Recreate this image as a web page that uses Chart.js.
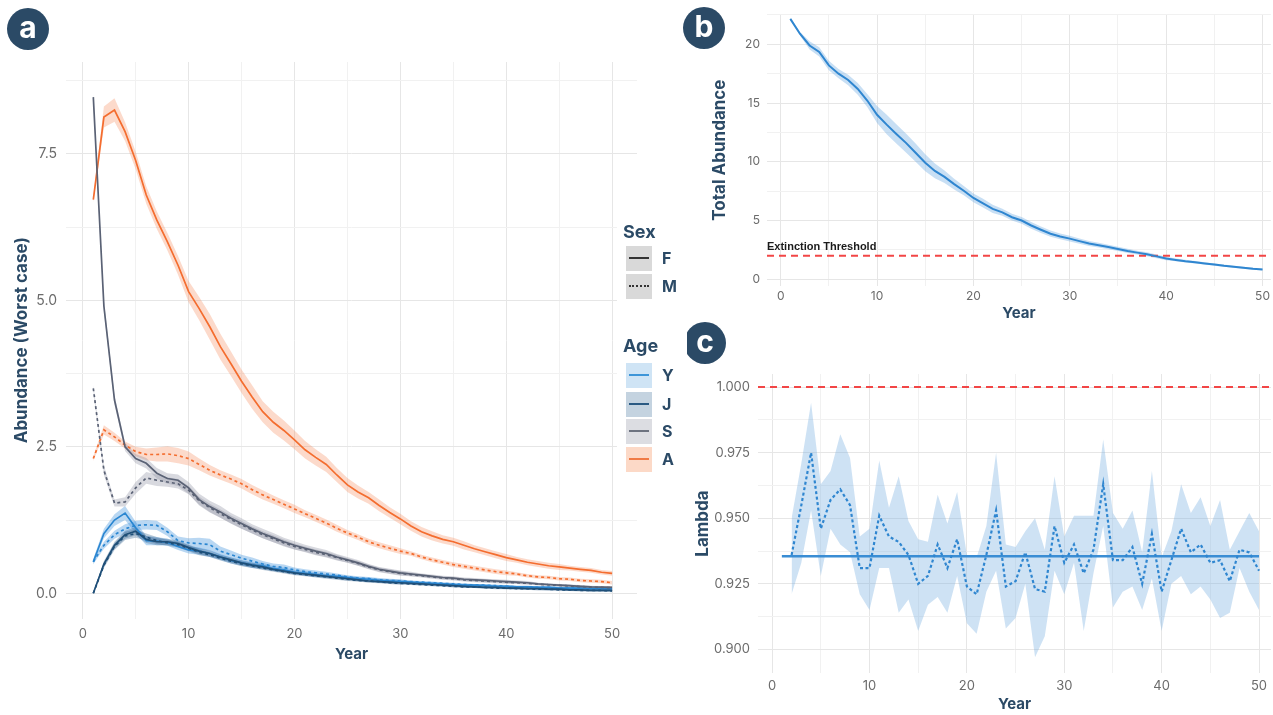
<!DOCTYPE html>
<html>
<head>
<meta charset="utf-8">
<script src="https://cdn.jsdelivr.net/npm/chart.js@4.4.1/dist/chart.umd.min.js"></script>
<style>
  body { margin: 0; background: #fff; width: 1273px; height: 715px; overflow: hidden; position: relative; font-family: Inter, "Open Sans", sans-serif; }
  canvas { position: absolute; }
  .tag { position: absolute; width: 42px; height: 42px; border-radius: 50%; background: #2b4a66; color: #fff;
         font: 700 30px Inter, sans-serif; text-align: center; line-height: 38px; }
  #legend { position: absolute; left: 617px; top: 212px; width: 70px; height: 266px; background: #fff; }
  #legend .ttl { position: absolute; left: 6px; font: 700 18px Inter, sans-serif; color: #2b4a66; }
  #legend .key { position: absolute; left: 9px; width: 26px; height: 25px; }
  #legend .key span { position: absolute; left: 3px; right: 3px; top: 11px; height: 0; border-top: 2px solid; }
  #legend .lab { position: absolute; left: 45px; font: 700 16px Inter, sans-serif; color: #2b4a66; line-height: 25px; }
</style>
</head>
<body>
<canvas id="chartA" width="640" height="663" style="left:0;top:0"></canvas>
<canvas id="chartB" width="593" height="322" style="left:680px;top:0"></canvas>
<canvas id="chartC" width="593" height="385" style="left:680px;top:330px"></canvas>

<div class="tag" style="left:7px;top:8px">a</div>
<div class="tag" style="left:683px;top:7px">b</div>
<div class="tag" style="left:684px;top:322px">c</div>

<div id="legend">
  <div class="ttl" style="top:9px">Sex</div>
  <div class="key" style="top:34px;background:#d9d9d9"><span style="border-color:#333"></span></div>
  <div class="lab" style="top:34px">F</div>
  <div class="key" style="top:62px;background:#d9d9d9"><span style="border-top-style:dotted;border-color:#333"></span></div>
  <div class="lab" style="top:62px">M</div>
  <div class="ttl" style="top:123px">Age</div>
  <div class="key" style="top:151px;background:#cfe4f5"><span style="border-color:#3d95d8"></span></div>
  <div class="lab" style="top:151px">Y</div>
  <div class="key" style="top:180px;background:#c4d3e0"><span style="border-color:#2a5a83"></span></div>
  <div class="lab" style="top:180px">J</div>
  <div class="key" style="top:207px;background:#dcdde2"><span style="border-color:#6d7380"></span></div>
  <div class="lab" style="top:207px">S</div>
  <div class="key" style="top:235px;background:#fcd9c7"><span style="border-color:#f07a45"></span></div>
  <div class="lab" style="top:235px">A</div>
</div>

<script>
Chart.defaults.font.family = 'Inter, "Open Sans", sans-serif';
Chart.defaults.color = '#6b6b6b';

let years = [1, 2, 3, 4, 5, 6, 7, 8, 9, 10, 11, 12, 13, 14, 15, 16, 17, 18, 19, 20,
    21, 22, 23, 24, 25, 26, 27, 28, 29, 30, 31, 32, 33, 34, 35, 36, 37, 38, 39, 40,
    41, 42, 43, 44, 45, 46, 47, 48, 49, 50];

// ---- panel a: abundance by age class and sex (mean + ribbon half width)
let adultF = [6.72, 8.13, 8.25, 7.88, 7.39, 6.80, 6.37, 6.00, 5.60, 5.15, 4.86, 4.55, 4.21, 3.92, 3.62, 3.35, 3.10, 2.92, 2.78, 2.62,
    2.45, 2.32, 2.20, 2.02, 1.85, 1.73, 1.63, 1.50, 1.38, 1.27, 1.15, 1.05, 0.98, 0.92, 0.88, 0.82, 0.76, 0.71, 0.66, 0.61,
    0.57, 0.53, 0.50, 0.47, 0.45, 0.43, 0.41, 0.39, 0.36, 0.34];
let adultFse = [0.05, 0.18, 0.2, 0.16, 0.15, 0.15, 0.15, 0.15, 0.16, 0.18, 0.2, 0.22, 0.22, 0.21, 0.2, 0.2, 0.18, 0.18, 0.17, 0.16,
    0.15, 0.14, 0.13, 0.12, 0.12, 0.11, 0.1, 0.1, 0.09, 0.09, 0.08, 0.08, 0.08, 0.07, 0.07, 0.07, 0.06, 0.06, 0.06, 0.06,
    0.05, 0.05, 0.05, 0.05, 0.05, 0.04, 0.04, 0.04, 0.04, 0.04];
let adultM = [2.30, 2.79, 2.67, 2.53, 2.42, 2.37, 2.37, 2.38, 2.35, 2.30, 2.20, 2.10, 2.02, 1.95, 1.87, 1.77, 1.68, 1.60, 1.52, 1.44,
    1.36, 1.28, 1.20, 1.11, 1.03, 0.96, 0.88, 0.82, 0.77, 0.72, 0.68, 0.62, 0.57, 0.53, 0.49, 0.46, 0.43, 0.40, 0.37, 0.35,
    0.33, 0.30, 0.28, 0.27, 0.25, 0.24, 0.22, 0.21, 0.20, 0.18];
let adultMse = [0.04, 0.08, 0.07, 0.06, 0.08, 0.1, 0.12, 0.13, 0.13, 0.12, 0.1, 0.09, 0.08, 0.08, 0.08, 0.08, 0.08, 0.07, 0.07, 0.07,
    0.06, 0.06, 0.06, 0.06, 0.05, 0.05, 0.05, 0.05, 0.05, 0.05, 0.04, 0.04, 0.04, 0.04, 0.04, 0.04, 0.04, 0.04, 0.04, 0.04,
    0.03, 0.03, 0.03, 0.03, 0.03, 0.03, 0.03, 0.03, 0.03, 0.03];
let seniorF = [8.47, 4.90, 3.30, 2.50, 2.30, 2.22, 2.05, 1.96, 1.93, 1.80, 1.60, 1.48, 1.39, 1.28, 1.19, 1.10, 1.02, 0.95, 0.88, 0.82,
    0.77, 0.72, 0.68, 0.62, 0.57, 0.52, 0.46, 0.41, 0.38, 0.35, 0.33, 0.31, 0.29, 0.27, 0.26, 0.24, 0.23, 0.22, 0.21, 0.20,
    0.19, 0.18, 0.16, 0.15, 0.14, 0.13, 0.12, 0.11, 0.105, 0.10];
let seniorFse = [0.06, 0.1, 0.08, 0.07, 0.08, 0.09, 0.09, 0.09, 0.1, 0.1, 0.1, 0.1, 0.1, 0.09, 0.09, 0.08, 0.08, 0.08, 0.07, 0.07,
    0.06, 0.06, 0.06, 0.05, 0.05, 0.05, 0.04, 0.04, 0.04, 0.04, 0.04, 0.03, 0.03, 0.03, 0.03, 0.03, 0.03, 0.03, 0.03, 0.03,
    0.03, 0.03, 0.02, 0.02, 0.02, 0.02, 0.02, 0.02, 0.02, 0.02];
let seniorM = [3.50, 2.10, 1.54, 1.56, 1.80, 1.97, 1.93, 1.90, 1.87, 1.76, 1.58, 1.46, 1.36, 1.26, 1.17, 1.08, 1.00, 0.93, 0.86, 0.80,
    0.75, 0.70, 0.66, 0.61, 0.56, 0.51, 0.45, 0.40, 0.37, 0.34, 0.32, 0.30, 0.28, 0.26, 0.25, 0.23, 0.22, 0.21, 0.20, 0.19,
    0.18, 0.17, 0.155, 0.145, 0.135, 0.125, 0.115, 0.105, 0.10, 0.095];
let seniorMse = [0.05, 0.08, 0.06, 0.08, 0.1, 0.1, 0.1, 0.08, 0.08, 0.07, 0.07, 0.07, 0.07, 0.07, 0.07, 0.06, 0.06, 0.06, 0.06, 0.05,
    0.05, 0.05, 0.05, 0.05, 0.04, 0.04, 0.04, 0.04, 0.04, 0.04, 0.03, 0.03, 0.03, 0.03, 0.03, 0.03, 0.03, 0.03, 0.03, 0.03,
    0.02, 0.02, 0.02, 0.02, 0.02, 0.02, 0.02, 0.02, 0.02, 0.02];
let youngF = [0.54, 1.02, 1.25, 1.37, 1.12, 0.90, 0.89, 0.87, 0.80, 0.74, 0.72, 0.68, 0.62, 0.56, 0.52, 0.48, 0.47, 0.42, 0.40, 0.36,
    0.34, 0.32, 0.30, 0.29, 0.27, 0.25, 0.24, 0.22, 0.21, 0.20, 0.19, 0.18, 0.17, 0.16, 0.15, 0.14, 0.14, 0.13, 0.12, 0.12,
    0.11, 0.11, 0.10, 0.10, 0.09, 0.09, 0.09, 0.08, 0.08, 0.08];
let youngFse = [0.05, 0.08, 0.1, 0.12, 0.1, 0.08, 0.07, 0.06, 0.06, 0.06, 0.06, 0.06, 0.05, 0.05, 0.05, 0.05, 0.05, 0.04, 0.04, 0.04,
    0.04, 0.04, 0.03, 0.03, 0.03, 0.03, 0.03, 0.03, 0.03, 0.03, 0.02, 0.02, 0.02, 0.02, 0.02, 0.02, 0.02, 0.02, 0.02, 0.02,
    0.02, 0.02, 0.02, 0.02, 0.02, 0.02, 0.02, 0.02, 0.02, 0.02];
let youngM = [0.54, 0.82, 1.00, 1.10, 1.16, 1.17, 1.16, 1.05, 0.90, 0.86, 0.85, 0.83, 0.72, 0.66, 0.60, 0.55, 0.50, 0.46, 0.44, 0.40,
    0.37, 0.35, 0.33, 0.31, 0.28, 0.26, 0.25, 0.23, 0.22, 0.21, 0.20, 0.19, 0.18, 0.17, 0.16, 0.15, 0.14, 0.14, 0.13, 0.12,
    0.11, 0.11, 0.10, 0.10, 0.09, 0.09, 0.09, 0.08, 0.08, 0.07];
let youngMse = [0.04, 0.06, 0.07, 0.08, 0.08, 0.08, 0.08, 0.07, 0.07, 0.08, 0.1, 0.1, 0.08, 0.07, 0.06, 0.06, 0.05, 0.05, 0.05, 0.04,
    0.04, 0.04, 0.04, 0.03, 0.03, 0.03, 0.03, 0.03, 0.03, 0.03, 0.02, 0.02, 0.02, 0.02, 0.02, 0.02, 0.02, 0.02, 0.02, 0.02,
    0.02, 0.02, 0.02, 0.02, 0.02, 0.02, 0.02, 0.02, 0.02, 0.02];
let juvF = [0.00, 0.50, 0.82, 1.00, 1.06, 0.92, 0.88, 0.88, 0.85, 0.78, 0.72, 0.68, 0.62, 0.57, 0.52, 0.48, 0.45, 0.41, 0.38, 0.35,
    0.33, 0.31, 0.29, 0.27, 0.25, 0.23, 0.21, 0.20, 0.19, 0.18, 0.17, 0.16, 0.15, 0.14, 0.13, 0.12, 0.11, 0.10, 0.10, 0.09,
    0.09, 0.08, 0.08, 0.07, 0.07, 0.06, 0.06, 0.05, 0.05, 0.05];
let juvFse = [0.02, 0.05, 0.06, 0.07, 0.07, 0.06, 0.06, 0.05, 0.05, 0.05, 0.05, 0.05, 0.04, 0.04, 0.04, 0.04, 0.04, 0.03, 0.03, 0.03,
    0.03, 0.03, 0.03, 0.03, 0.03, 0.03, 0.03, 0.03, 0.03, 0.03, 0.02, 0.02, 0.02, 0.02, 0.02, 0.02, 0.02, 0.02, 0.02, 0.02,
    0.02, 0.02, 0.02, 0.02, 0.02, 0.02, 0.02, 0.02, 0.02, 0.02];
let juvM = [0.00, 0.48, 0.80, 0.98, 1.02, 0.96, 0.90, 0.86, 0.83, 0.77, 0.70, 0.66, 0.60, 0.55, 0.50, 0.47, 0.43, 0.40, 0.37, 0.34,
    0.32, 0.30, 0.28, 0.26, 0.24, 0.22, 0.21, 0.20, 0.18, 0.17, 0.16, 0.15, 0.14, 0.13, 0.12, 0.11, 0.11, 0.10, 0.09, 0.09,
    0.08, 0.08, 0.07, 0.07, 0.06, 0.06, 0.05, 0.05, 0.05, 0.04];
let juvMse = [0.02, 0.05, 0.06, 0.07, 0.07, 0.06, 0.06, 0.05, 0.05, 0.05, 0.05, 0.04, 0.04, 0.04, 0.04, 0.04, 0.03, 0.03, 0.03, 0.03,
    0.03, 0.03, 0.03, 0.03, 0.03, 0.02, 0.02, 0.02, 0.02, 0.02, 0.02, 0.02, 0.02, 0.02, 0.02, 0.02, 0.02, 0.02, 0.02, 0.02,
    0.02, 0.02, 0.02, 0.02, 0.02, 0.02, 0.02, 0.02, 0.02, 0.02];

// ---- panel b: total abundance
let totalMean = [22.16, 20.90, 19.90, 19.35, 18.20, 17.50, 16.96, 16.20, 15.19, 14.00, 13.16, 12.37, 11.61, 10.77, 9.92, 9.22, 8.72, 8.10, 7.54, 6.92,
    6.46, 5.99, 5.70, 5.28, 5.00, 4.58, 4.22, 3.88, 3.65, 3.46, 3.25, 3.04, 2.90, 2.75, 2.58, 2.41, 2.27, 2.13, 1.95, 1.77,
    1.65, 1.54, 1.45, 1.35, 1.25, 1.15, 1.07, 0.98, 0.90, 0.84];
let totalUpper = [22.26, 21.05, 20.25, 19.75, 18.60, 17.90, 17.40, 16.70, 15.75, 14.75, 14.00, 13.20, 12.40, 11.55, 10.65, 9.85, 9.25, 8.55, 7.95, 7.30,
    6.85, 6.35, 6.00, 5.58, 5.30, 4.88, 4.50, 4.15, 3.90, 3.70, 3.47, 3.25, 3.10, 2.95, 2.77, 2.60, 2.44, 2.30, 2.10, 1.92,
    1.78, 1.66, 1.56, 1.46, 1.35, 1.25, 1.16, 1.07, 0.99, 0.92];
let totalLower = [22.06, 20.75, 19.55, 18.95, 17.80, 17.10, 16.52, 15.70, 14.65, 13.30, 12.35, 11.55, 10.80, 10.00, 9.20, 8.60, 8.20, 7.65, 7.15, 6.55,
    6.10, 5.65, 5.40, 5.00, 4.72, 4.30, 3.95, 3.62, 3.40, 3.22, 3.03, 2.83, 2.70, 2.56, 2.40, 2.23, 2.10, 1.97, 1.80, 1.63,
    1.53, 1.43, 1.35, 1.25, 1.16, 1.06, 0.98, 0.90, 0.82, 0.76];
let extinctionThreshold = 2;

// ---- panel c: annual growth rate
let lambdaYears = [2, 3, 4, 5, 6, 7, 8, 9, 10, 11, 12, 13, 14, 15, 16, 17, 18, 19, 20, 21, 22, 23, 24, 25, 26,
    27, 28, 29, 30, 31, 32, 33, 34, 35, 36, 37, 38, 39, 40, 41, 42, 43, 44, 45, 46, 47, 48, 49, 50];
let lambdaMean = [0.936, 0.955, 0.975, 0.946, 0.957, 0.961, 0.955, 0.931, 0.931, 0.951, 0.943, 0.941, 0.936, 0.925, 0.928, 0.940, 0.931, 0.942, 0.924, 0.921,
    0.936, 0.953, 0.924, 0.926, 0.937, 0.923, 0.922, 0.947, 0.933, 0.940, 0.929, 0.938, 0.963, 0.934, 0.934, 0.939, 0.925, 0.944, 0.922, 0.934,
    0.946, 0.937, 0.940, 0.933, 0.934, 0.926, 0.938, 0.937, 0.930];
let lambdaUpper = [0.950, 0.971, 0.994, 0.963, 0.968, 0.982, 0.973, 0.943, 0.946, 0.972, 0.954, 0.966, 0.949, 0.942, 0.941, 0.959, 0.948, 0.960, 0.936, 0.935,
    0.947, 0.975, 0.940, 0.939, 0.945, 0.950, 0.938, 0.966, 0.943, 0.951, 0.951, 0.951, 0.980, 0.952, 0.946, 0.953, 0.937, 0.968, 0.935, 0.945,
    0.963, 0.952, 0.958, 0.947, 0.957, 0.938, 0.945, 0.952, 0.945];
let lambdaLower = [0.921, 0.933, 0.953, 0.928, 0.946, 0.940, 0.937, 0.921, 0.915, 0.931, 0.931, 0.914, 0.919, 0.907, 0.917, 0.920, 0.914, 0.928, 0.910, 0.906,
    0.922, 0.930, 0.908, 0.912, 0.925, 0.897, 0.905, 0.930, 0.921, 0.933, 0.907, 0.929, 0.947, 0.916, 0.922, 0.924, 0.915, 0.927, 0.907, 0.925,
    0.928, 0.921, 0.924, 0.919, 0.912, 0.914, 0.931, 0.922, 0.915];
let lambdaOverall = 0.9355;
let lambdaStable = 1.0;

// ---------------------------------------------------------------
function pts(xs, ys) {
    return xs.map((x, i) => ({ x: x, y: ys[i] }));
}
function isMajor(v, step) {
    const r = v / step;
    return Math.abs(r - Math.round(r)) < 1e-6;
}
function gridFor(step) {
    return {
        color: ctx => isMajor(ctx.tick.value, step) ? '#e6e6e6' : '#f1f1f1',
        lineWidth: 1,
        drawTicks: false
    };
}
const tickFont = { size: 13 };
const titleFont = { size: 17, weight: 'bold' };
const navy = '#2b4a66';

// panel a datasets
let seriesA = [
    { mean: seniorF, se: seniorFse, line: '#5a6275', band: 'rgba(140,145,162,0.34)', dash: [] },
    { mean: seniorM, se: seniorMse, line: '#5a6275', band: 'rgba(140,145,162,0.34)', dash: [3, 3] },
    { mean: adultF, se: adultFse, line: '#f46d2f', band: 'rgba(246,140,92,0.32)', dash: [] },
    { mean: adultM, se: adultMse, line: '#f46d2f', band: 'rgba(246,140,92,0.32)', dash: [3, 3] },
    { mean: juvF, se: juvFse, line: '#1f4f78', band: 'rgba(50,95,140,0.32)', dash: [] },
    { mean: juvM, se: juvMse, line: '#1f4f78', band: 'rgba(50,95,140,0.32)', dash: [3, 3] },
    { mean: youngF, se: youngFse, line: '#2a86d1', band: 'rgba(70,150,220,0.38)', dash: [] },
    { mean: youngM, se: youngMse, line: '#2a86d1', band: 'rgba(70,150,220,0.38)', dash: [3, 3] }
];
let dsA = [];
seriesA.forEach(s => {
    dsA.push({
        data: pts(years, s.mean), borderColor: s.line, borderWidth: 1.7, borderDash: s.dash,
        pointRadius: 0, fill: false, order: 0
    });
});
seriesA.forEach(s => {
    dsA.push({
        data: pts(years, s.mean.map((m, i) => m + s.se[i])), borderWidth: 0, pointRadius: 0,
        backgroundColor: s.band, fill: '+1', order: 5
    });
    dsA.push({
        data: pts(years, s.mean.map((m, i) => Math.max(0, m - s.se[i]))), borderWidth: 0, pointRadius: 0,
        fill: false, order: 5
    });
});

new Chart(document.getElementById('chartA'), {
    type: 'line',
    data: { datasets: dsA },
    options: {
        responsive: false, animation: false,
        layout: { padding: { top: 62, right: 3, left: 0, bottom: 0 } },
        plugins: { legend: { display: false }, tooltip: { enabled: false } },
        scales: {
            x: {
                type: 'linear', min: -1.58, max: 52.35,
                grid: gridFor(10), border: { display: false },
                ticks: { stepSize: 5, includeBounds: false, autoSkip: false, maxRotation: 0, padding: 8, font: tickFont,
                    callback: v => isMajor(v, 10) ? v : '' },
                title: { display: true, text: 'Year', color: navy, font: { size: 15, weight: 'bold' }, padding: 0 },
                afterFit: s => { s.height = 44.5; }
            },
            y: {
                min: -0.43, max: 9.07,
                grid: gridFor(2.5), border: { display: false },
                ticks: { stepSize: 1.25, includeBounds: false, autoSkip: false, padding: 9, font: { size: 14 },
                    callback: v => isMajor(v, 2.5) ? v.toFixed(1) : '' },
                title: { display: true, text: 'Abundance (Worst case)', color: navy, font: titleFont, padding: { top: 12, bottom: 0 } },
                afterFit: s => { s.width = 66; }
            }
        }
    }
});

// panel b
const thresholdLabel = {
    id: 'thresholdLabel',
    afterDatasetsDraw(chart) {
        const ctx = chart.ctx;
        const y = chart.scales.y.getPixelForValue(extinctionThreshold);
        ctx.save();
        ctx.font = 'bold 11px "Liberation Sans", Arial, sans-serif';
        ctx.fillStyle = '#1a1a1a';
        ctx.textBaseline = 'middle';
        ctx.fillText('Extinction Threshold', chart.chartArea.left, y - 9);
        ctx.restore();
    }
};
new Chart(document.getElementById('chartB'), {
    type: 'line',
    data: {
        datasets: [
            { data: pts(years, totalMean), borderColor: '#2f86d0', borderWidth: 2, pointRadius: 0, fill: false, order: 0 },
            { data: [{ x: -1.42, y: extinctionThreshold }, { x: 50.86, y: extinctionThreshold }], borderColor: '#f24646',
              borderWidth: 2, borderDash: [7, 5], pointRadius: 0, fill: false, order: 1 },
            { data: pts(years, totalUpper), borderWidth: 0, pointRadius: 0, backgroundColor: 'rgba(110,170,225,0.38)', fill: '+1', order: 5 },
            { data: pts(years, totalLower), borderWidth: 0, pointRadius: 0, fill: false, order: 5 }
        ]
    },
    options: {
        responsive: false, animation: false,
        layout: { padding: { top: 12, right: 1, left: 0, bottom: 0 } },
        plugins: { legend: { display: false }, tooltip: { enabled: false } },
        scales: {
            x: {
                type: 'linear', min: -1.42, max: 50.86,
                grid: gridFor(10), border: { display: false },
                ticks: { stepSize: 5, includeBounds: false, autoSkip: false, maxRotation: 0, padding: 3, font: { size: 12 },
                    callback: v => isMajor(v, 10) ? v : '' },
                title: { display: true, text: 'Year', color: navy, font: { size: 15, weight: 'bold' }, padding: 0 },
                afterFit: s => { s.height = 36; }
            },
            y: {
                min: -0.57, max: 22.56,
                grid: gridFor(5), border: { display: false },
                ticks: { stepSize: 2.5, includeBounds: false, autoSkip: false, padding: 7, font: { size: 12 },
                    callback: v => isMajor(v, 5) ? v : '' },
                title: { display: true, text: 'Total Abundance', color: navy, font: titleFont, padding: { top: 30, bottom: 0 } },
                afterFit: s => { s.width = 87; }
            }
        }
    },
    plugins: [thresholdLabel]
});

// panel c
new Chart(document.getElementById('chartC'), {
    type: 'line',
    data: {
        datasets: [
            { data: pts(lambdaYears, lambdaMean), borderColor: '#2f86d0', borderWidth: 2.2, borderDash: [3, 2.5],
              pointRadius: 0, fill: false, order: 0 },
            { data: [{ x: years[0], y: lambdaOverall }, { x: years[years.length - 1], y: lambdaOverall }],
              borderColor: '#3a8dd4', borderWidth: 2.4, pointRadius: 0, fill: false, order: 1 },
            { data: [{ x: -1.45, y: lambdaStable }, { x: 51.23, y: lambdaStable }], borderColor: '#f24646',
              borderWidth: 2, borderDash: [7, 5], pointRadius: 0, fill: false, order: 1 },
            { data: pts(lambdaYears, lambdaUpper), borderWidth: 0, pointRadius: 0, backgroundColor: 'rgba(120,175,225,0.36)', fill: '+1', order: 5 },
            { data: pts(lambdaYears, lambdaLower), borderWidth: 0, pointRadius: 0, fill: false, order: 5 }
        ]
    },
    options: {
        responsive: false, animation: false,
        layout: { padding: { top: 44, right: 2, left: 0, bottom: 0 } },
        plugins: { legend: { display: false }, tooltip: { enabled: false } },
        scales: {
            x: {
                type: 'linear', min: -1.45, max: 51.23,
                grid: gridFor(10), border: { display: false },
                ticks: { stepSize: 5, includeBounds: false, autoSkip: false, maxRotation: 0, padding: 5, font: tickFont,
                    callback: v => isMajor(v, 10) ? v : '' },
                title: { display: true, text: 'Year', color: navy, font: { size: 15, weight: 'bold' }, padding: { top: 0, bottom: 2 } },
                afterFit: s => { s.height = 42; }
            },
            y: {
                min: 0.891, max: 1.005,
                grid: gridFor(0.025), border: { display: false },
                ticks: { stepSize: 0.0125, includeBounds: false, autoSkip: false, padding: 8, font: tickFont,
                    callback: v => isMajor(v, 0.025) ? v.toFixed(3) : '' },
                title: { display: true, text: 'Lambda', color: navy, font: titleFont, padding: { top: 13, bottom: 0 } },
                afterFit: s => { s.width = 78; }
            }
        }
    }
});
</script>
</body>
</html>
